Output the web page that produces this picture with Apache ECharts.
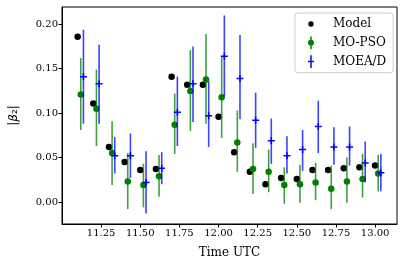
<!DOCTYPE html>
<html>
<head>
<meta charset="utf-8">
<script src="https://cdn.jsdelivr.net/npm/echarts@6/dist/echarts.min.js"></script>
<style>html,body{margin:0;padding:0;background:#fff}#c{width:403px;height:268px}</style>
</head>
<body>
<div id="c"></div>
<script>
// ---- data ----
const times = [11.1, 11.2, 11.3, 11.4, 11.5, 11.6, 11.7, 11.8, 11.9, 12.0,
               12.1, 12.2, 12.3, 12.4, 12.5, 12.6, 12.7, 12.8, 12.9, 13.0];
const modelVals = [0.186, 0.111, 0.062, 0.045, 0.036, 0.037, 0.141, 0.132, 0.132, 0.096,
                   0.056, 0.034, 0.020, 0.027, 0.026, 0.036, 0.036, 0.038, 0.039, 0.041];
const psoVals = [0.121, 0.105, 0.055, 0.023, 0.019, 0.029, 0.087, 0.125, 0.138, 0.118,
                 0.067, 0.037, 0.034, 0.019, 0.020, 0.022, 0.015, 0.023, 0.026, 0.032];
const psoLow  = [0.081, 0.063, 0.019, -0.008, -0.006, 0.006, 0.054, 0.080, 0.088, 0.072,
                 0.034, 0.009, 0.011, -0.002, -0.001, 0.002, -0.008, -0.001, 0.005, 0.012];
const psoHigh = [0.162, 0.149, 0.091, 0.055, 0.043, 0.053, 0.122, 0.171, 0.189, 0.164,
                 0.103, 0.066, 0.059, 0.039, 0.042, 0.044, 0.041, 0.050, 0.054, 0.053];
const moeaVals = [0.141, 0.133, 0.052, 0.052, 0.022, 0.038, 0.101, 0.133, 0.097, 0.164,
                  0.139, 0.092, 0.069, 0.052, 0.059, 0.085, 0.062, 0.062, 0.044, 0.033];
const moeaLow  = [0.088, 0.088, 0.032, 0.027, -0.013, 0.020, 0.063, 0.090, 0.062, 0.119,
                  0.093, 0.061, 0.043, 0.032, 0.035, 0.055, 0.042, 0.041, 0.022, 0.012];
const moeaHigh = [0.194, 0.177, 0.073, 0.077, 0.057, 0.056, 0.141, 0.175, 0.136, 0.210,
                  0.188, 0.123, 0.094, 0.074, 0.081, 0.114, 0.084, 0.085, 0.068, 0.054];
const psoShift = 0.02;
const moeaShift = 0.037;
const xTicks = [11.25, 11.5, 11.75, 12.0, 12.25, 12.5, 12.75, 13.0];
const yTicks = [0, 0.05, 0.10, 0.15, 0.20];

// ---- build ----
const modelData = times.map((t, i) => [t, modelVals[i]]);
const psoData = times.map((t, i) => [t + psoShift, psoVals[i]]);
const psoErr = times.map((t, i) => [t + psoShift, psoLow[i], psoHigh[i]]);
const moeaData = times.map((t, i) => [t + moeaShift, moeaVals[i]]);
const moeaErr = times.map((t, i) => [t + moeaShift, moeaLow[i], moeaHigh[i]]);

function errRender(color) {
  return function (params, api) {
    const x = api.value(0);
    const p1 = api.coord([x, api.value(1)]);
    const p2 = api.coord([x, api.value(2)]);
    return {
      type: 'line',
      shape: { x1: p1[0], y1: p1[1], x2: p2[0], y2: p2[1] },
      style: { stroke: color, lineWidth: 1.6 }
    };
  };
}

const corners = 'M0,0 h0.01 v0.01 h-0.01 Z M23.99,13.99 h0.01 v0.01 h-0.01 Z ';
const iconModel = 'path://' + corners + 'M14.7,7 A2.7,2.7 0 1 1 9.3,7 A2.7,2.7 0 1 1 14.7,7 Z';
const iconPso = 'path://' + corners +
  'M11.25,0.6 h1.5 v3.6 h-1.5 Z M11.25,9.8 h1.5 v3.6 h-1.5 Z M15,7 A3,3 0 1 1 9,7 A3,3 0 1 1 15,7 Z';
const iconMoea = 'path://' + corners +
  'M11.25,0.6 h1.5 v12.8 h-1.5 Z M9,6.25 h6 v1.5 h-6 Z';
const crossSym = 'path://M0,2.75 h7 v1.5 h-7 Z M2.75,0 h1.5 v7 h-1.5 Z';

const serif = 'DejaVu Serif';
const chart = echarts.init(document.getElementById('c'), null, { renderer: 'canvas' });
chart.setOption({
  animation: false,
  backgroundColor: '#fff',
  grid: { left: 62, top: 7, width: 335, height: 217, show: true, borderColor: '#000', borderWidth: 1, backgroundColor: 'transparent' },
  legend: {
    left: 295, top: 13, orient: 'vertical',
    padding: [4, 7, 4, 4],
    itemWidth: 24, itemHeight: 14, itemGap: 4.8,
    borderColor: '#cccccc', borderWidth: 1, borderRadius: 3,
    backgroundColor: 'rgba(255,255,255,0.8)',
    textStyle: { fontFamily: serif, fontSize: 12, color: '#000', padding: [0, 0, 0, 5] },
    data: [
      { name: 'Model', icon: iconModel, itemStyle: { color: '#000' } },
      { name: 'MO-PSO', icon: iconPso, itemStyle: { color: '#008000' } },
      { name: 'MOEA/D', icon: iconMoea, itemStyle: { color: '#0000ff' } }
    ]
  },
  xAxis: {
    type: 'value', min: 11.0, max: 13.14,
    name: 'Time UTC', nameLocation: 'middle', nameGap: 23,
    nameTextStyle: { fontFamily: serif, fontSize: 12, color: '#000' },
    axisLine: { show: true, onZero: false, lineStyle: { color: '#000', width: 1 } },
    axisTick: { show: true, length: 3.5, lineStyle: { color: '#000' }, customValues: xTicks },
    axisLabel: { fontFamily: serif, fontSize: 10, color: '#000', margin: 4, customValues: xTicks,
                 formatter: v => v.toFixed(2) },
    splitLine: { show: false }
  },
  yAxis: {
    type: 'value', min: -0.0248, max: 0.2195,
    name: '|{i|β}₂|', nameLocation: 'middle', nameGap: 42, nameRotate: 90,
    nameTextStyle: { fontFamily: 'DejaVu Sans', fontSize: 12, color: '#000',
                     rich: { i: { fontFamily: 'DejaVu Sans', fontStyle: 'italic', fontSize: 12, color: '#000' } } },
    axisLine: { show: true, onZero: false, lineStyle: { color: '#000', width: 1 } },
    axisTick: { show: true, length: 3.5, lineStyle: { color: '#000' }, customValues: yTicks },
    axisLabel: { fontFamily: serif, fontSize: 10, color: '#000', margin: 4, customValues: yTicks,
                 formatter: v => v.toFixed(2) },
    splitLine: { show: false }
  },
  series: [
    { name: 'Model', type: 'scatter', data: modelData, symbol: 'circle', symbolSize: 6.5,
      itemStyle: { color: '#000', opacity: 1 }, z: 2 },
    { name: 'pso-err', type: 'custom', data: psoErr, renderItem: errRender('rgba(0,128,0,0.75)'),
      encode: { x: 0, y: [1, 2] }, z: 3 },
    { name: 'MO-PSO', type: 'scatter', data: psoData, symbol: 'circle', symbolSize: 6.5,
      itemStyle: { color: '#008000', opacity: 1 }, z: 4 },
    { name: 'moea-err', type: 'custom', data: moeaErr, renderItem: errRender('rgba(0,0,255,0.75)'),
      encode: { x: 0, y: [1, 2] }, z: 5 },
    { name: 'MOEA/D', type: 'scatter', data: moeaData, symbol: crossSym, symbolSize: 7,
      itemStyle: { color: '#0000ff', opacity: 1 }, z: 6 }
  ]
});
</script>
</body>
</html>
